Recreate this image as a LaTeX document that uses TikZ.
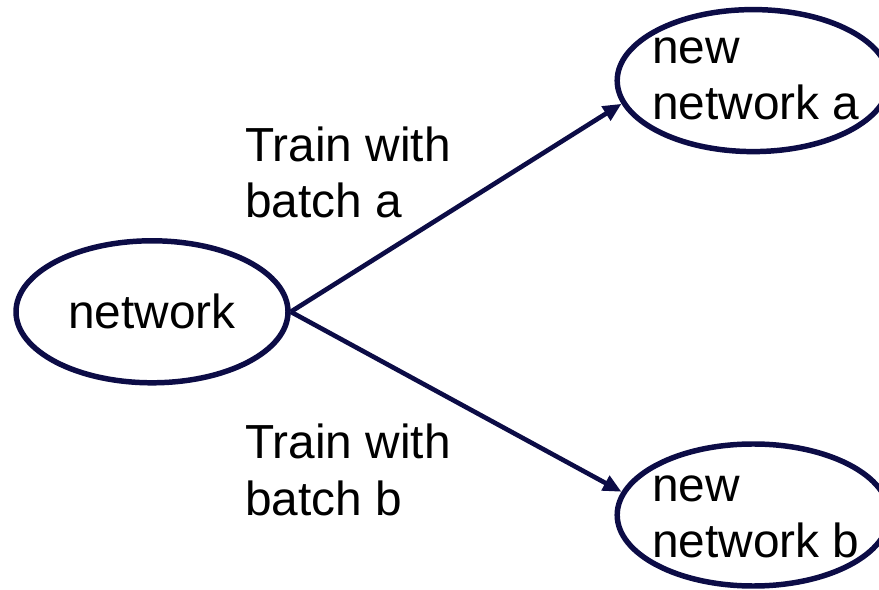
\documentclass[tikz,border=0pt]{standalone}
\usepackage{fontspec}
\setmainfont{Liberation Sans}
\usetikzlibrary{arrows.meta, positioning, shapes.geometric}
\definecolor{netnavy}{RGB}{12, 12, 70}

\begin{document}
\begin{tikzpicture}[
      net/.style={ellipse, draw=netnavy, line width=3.9pt, minimum width=6.8cm, minimum height=3.55cm, inner sep=0pt, font=\fontsize{34}{40}\selectfont},
      lbl/.style={align=left, inner sep=0pt, anchor=west, font=\fontsize{34}{40}\selectfont},
      flow/.style={-{Triangle[length=0.46cm, width=0.4cm]}, line width=3.3pt, netnavy}
    ]
      \useasboundingbox (0,0) rectangle (21.975,14.725);

      \node[net] (N) at (3.8, 6.93) {network};
      \node[net] (A) at (18.83, 12.71) {};
      \node[net] (B) at (18.83, 1.85) {};

      \node[lbl] (At) at (16.3, 12.75) {new\\network a};
      \node[lbl] (Bt) at (16.3, 1.8) {new\\network b};

      \draw[flow] (N.east) -- (A.190);
      \draw[flow] (N.east) -- (B.170);

      \node[lbl] (TA) at (6.125, 10.41) {Train with\\batch a};
      \node[lbl] (TB) at (6.125, 2.975) {Train with\\batch b};
    \end{tikzpicture}
\end{document}
